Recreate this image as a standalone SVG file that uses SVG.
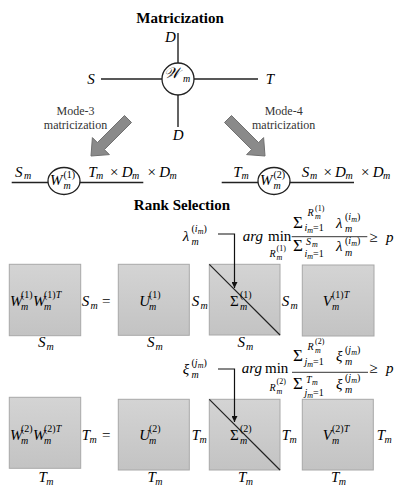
<svg xmlns="http://www.w3.org/2000/svg" width="412" height="495" viewBox="0 0 412 495">
<defs>
<style>
.t{font-family:"Liberation Serif","DejaVu Serif",serif;fill:#000}
.i{font-style:italic}
.b{font-weight:bold;font-size:15px}
.M{font-size:15px}
.s{font-size:10px}
.ss{font-size:8px}
.sg{font-size:17px}
.md{font-size:12px;fill:#333;text-anchor:middle}
.ln{stroke:#222;stroke-width:1.4;fill:none}
.bx{fill:url(#g);stroke:#a8a8a8;stroke-width:1}
.ar{fill:#8a8a8a;stroke:#707070;stroke-width:1}
.fr{stroke:#000;stroke-width:0.8}
.dg{stroke:#222;stroke-width:1.2}
.nd{fill:#fff;stroke:#222;stroke-width:1.3}
</style>
<linearGradient id="g" x1="0" y1="0" x2="0" y2="1">
<stop offset="0" stop-color="#d4d4d4"/><stop offset="1" stop-color="#c3c3c3"/>
</linearGradient>
<marker id="ah" viewBox="0 0 10 10" refX="10" refY="5" markerWidth="6" markerHeight="6" orient="auto" markerUnits="userSpaceOnUse">
<path d="M0,0 L10,5 L0,10 z" fill="#111"/>
</marker>
</defs>
<rect width="412" height="495" fill="#fff"/>

<g id="titles">
<text class="t b" x="180" y="22.5" text-anchor="middle">Matricization</text>
<text class="t b" x="182" y="210" text-anchor="middle">Rank Selection</text>
<text class="t md" x="75.5" y="114.5">Mode-3</text>
<text class="t md" x="75.5" y="128.5">matricization</text>
<text class="t md" x="283.7" y="114.5">Mode-4</text>
<text class="t md" x="283.7" y="128.5">matricization</text>
</g>

<g id="tensor">
<circle class="nd" cx="178" cy="79" r="16"/>
<text class="t i M" x="164" y="77.5">𝒲</text>
<text class="t i s" x="183" y="81.5">m</text>
<text class="t i M" x="165" y="41.7">D</text>
<text class="t i M" x="172.7" y="139.5">D</text>
<text class="t i M" x="87.3" y="84.3">S</text>
<text class="t i M" x="265.7" y="84.3">T</text>
</g>

<g id="mode3">
<ellipse class="nd" cx="64" cy="181" rx="16" ry="13.5"/>
<text class="t i M" x="50" y="184.5">W</text>
<text class="t s" x="63.5" y="177.5">(1)</text>
<text class="t i s" x="63.5" y="189">m</text>
<text class="t i M" x="15" y="176.5">S</text><text class="t i s" x="24" y="179">m</text>
<text class="t i M" x="88.3" y="176.5">T</text><text class="t i s" x="96" y="179">m</text>
<text class="t M" x="110" y="176.5">×</text>
<text class="t i M" x="121.7" y="176.5">D</text><text class="t i s" x="132" y="179">m</text>
<text class="t M" x="147.5" y="176.5">×</text>
<text class="t i M" x="159.3" y="176.5">D</text><text class="t i s" x="169.5" y="179">m</text>
</g>

<g id="mode4">
<ellipse class="nd" cx="274" cy="181" rx="16" ry="13.5"/>
<text class="t i M" x="260" y="184.5">W</text>
<text class="t s" x="273.5" y="177.5">(2)</text>
<text class="t i s" x="273.5" y="189">m</text>
<text class="t i M" x="233.3" y="176.5">T</text><text class="t i s" x="241.5" y="179">m</text>
<text class="t i M" x="301.7" y="176.5">S</text><text class="t i s" x="310" y="179">m</text>
<text class="t M" x="323.4" y="176.5">×</text>
<text class="t i M" x="335.1" y="176.5">D</text><text class="t i s" x="345.4" y="179">m</text>
<text class="t M" x="360.9" y="176.5">×</text>
<text class="t i M" x="372.7" y="176.5">D</text><text class="t i s" x="382.9" y="179">m</text>
</g>

<g id="rank1">
<rect class="bx" x="9.3" y="264.3" width="71.4" height="71.4"/>
<rect class="bx" x="118.3" y="264.3" width="71" height="71"/>
<rect class="bx" x="209.3" y="264.3" width="70.7" height="70.7"/>
<line class="dg" x1="209.3" y1="264.3" x2="280" y2="335"/>
<rect class="bx" x="302.3" y="265" width="71.7" height="71"/>
<text class="t i M" x="10" y="305.7">W</text><text class="t s" x="21" y="297.5">(1)</text><text class="t i s" x="21" y="310">m</text>
<text class="t i M" x="33" y="305.7">W</text><text class="t s" x="44" y="297.5">(1)<tspan class="i">T</tspan></text><text class="t i s" x="44" y="310">m</text>
<text class="t i M" x="81.7" y="305.7">S</text><text class="t i s" x="90.5" y="309">m</text><text class="t M" x="102" y="305.7">=</text>
<text class="t i M" x="139.3" y="305.7">U</text><text class="t s" x="149" y="297.5">(1)</text><text class="t i s" x="149" y="310">m</text>
<text class="t i M" x="191.7" y="305.7">S</text><text class="t i s" x="200.5" y="309">m</text>
<text class="t M" x="230" y="305.7">Σ</text><text class="t s" x="240" y="297.5">(1)</text><text class="t i s" x="240" y="310">m</text>
<text class="t i M" x="281.7" y="305.7">S</text><text class="t i s" x="290.5" y="309">m</text>
<text class="t i M" x="322.7" y="305.7">V</text><text class="t s" x="332" y="297.5">(1)<tspan class="i">T</tspan></text><text class="t i s" x="332" y="310">m</text>
<text class="t i M" x="38" y="347">S</text><text class="t i s" x="46.5" y="350">m</text>
<text class="t i M" x="147" y="347">S</text><text class="t i s" x="155.5" y="350">m</text>
<text class="t i M" x="237.5" y="347">S</text><text class="t i s" x="246" y="350">m</text>
</g>

<g id="formula1">
<text class="t i M" x="182.7" y="241">λ</text>
<text class="t s" x="191.5" y="232">(<tspan class="i">i</tspan><tspan class="ss i" dy="2">m</tspan><tspan dy="-2">)</tspan></text>
<text class="t i s" x="191.5" y="245">m</text>
<text class="t i M" x="242.7" y="241">arg</text><text class="t M" x="268" y="241">min</text>
<text class="t i s" x="269.5" y="257">R</text><text class="t ss" x="276.5" y="250.5">(1)</text><text class="t i ss" x="276.5" y="259.5">m</text>
<text class="t sg" x="293" y="228">Σ</text>
<text class="t i s" x="307.5" y="215.5">R</text><text class="t ss" x="315" y="210.5">(1)</text><text class="t i ss" x="315" y="219">m</text>
<text class="t s" x="304.5" y="231"><tspan class="i">i</tspan><tspan class="ss i" dy="2">m</tspan><tspan dy="-2">=1</tspan></text>
<text class="t i M" x="336" y="228">λ</text>
<text class="t s" x="345" y="220">(<tspan class="i">i</tspan><tspan class="ss i" dy="2">m</tspan><tspan dy="-2">)</tspan></text>
<text class="t i s" x="345" y="232">m</text>
<line class="fr" x1="291.7" y1="236.7" x2="367.3" y2="236.7"/>
<text class="t sg" x="293" y="251">Σ</text>
<text class="t i s" x="306" y="245">S</text><text class="t i ss" x="312" y="247">m</text>
<text class="t s" x="304.5" y="257"><tspan class="i">i</tspan><tspan class="ss i" dy="2">m</tspan><tspan dy="-2">=1</tspan></text>
<text class="t i M" x="336" y="251">λ</text>
<text class="t s" x="345" y="243.5">(<tspan class="i">i</tspan><tspan class="ss i" dy="2">m</tspan><tspan dy="-2">)</tspan></text>
<text class="t i s" x="345" y="256">m</text>
<text class="t M" x="369.3" y="241.5">≥</text><text class="t i M" x="386" y="241.5">p</text>
</g>

<g id="rank2">
<rect class="bx" x="9.3" y="397.3" width="71.4" height="71"/>
<rect class="bx" x="118.3" y="399.3" width="71" height="70.7"/>
<rect class="bx" x="209.3" y="399.3" width="70.7" height="70.7"/>
<line class="dg" x1="209.3" y1="399.3" x2="280" y2="470"/>
<rect class="bx" x="302.3" y="399.3" width="71" height="70.7"/>
<text class="t i M" x="10" y="440">W</text><text class="t s" x="21" y="431.8">(2)</text><text class="t i s" x="21" y="444.3">m</text>
<text class="t i M" x="33" y="440">W</text><text class="t s" x="44" y="431.8">(2)<tspan class="i">T</tspan></text><text class="t i s" x="44" y="444.3">m</text>
<text class="t i M" x="81.7" y="440">T</text><text class="t i s" x="89.5" y="443.3">m</text><text class="t M" x="102" y="440">=</text>
<text class="t i M" x="139.3" y="440">U</text><text class="t s" x="149" y="431.8">(2)</text><text class="t i s" x="149" y="444.3">m</text>
<text class="t i M" x="191.7" y="440">T</text><text class="t i s" x="199.5" y="443.3">m</text>
<text class="t M" x="230" y="440">Σ</text><text class="t s" x="240" y="431.8">(2)</text><text class="t i s" x="240" y="444.3">m</text>
<text class="t i M" x="281.7" y="440">T</text><text class="t i s" x="289.5" y="443.3">m</text>
<text class="t i M" x="322.7" y="440">V</text><text class="t s" x="332" y="431.8">(2)<tspan class="i">T</tspan></text><text class="t i s" x="332" y="444.3">m</text>
<text class="t i M" x="376.7" y="440">T</text><text class="t i s" x="384.5" y="443.3">m</text>
<text class="t i M" x="38.5" y="481.5">T</text><text class="t i s" x="46.3" y="484.5">m</text>
<text class="t i M" x="147.5" y="481.5">T</text><text class="t i s" x="155.3" y="484.5">m</text>
<text class="t i M" x="238" y="481.5">T</text><text class="t i s" x="245.8" y="484.5">m</text>
<text class="t i M" x="331" y="481.5">T</text><text class="t i s" x="338.8" y="484.5">m</text>
</g>

<g id="formula2">
<text class="t i M" x="182.7" y="374">ξ</text>
<text class="t s" x="191.5" y="366">(<tspan class="i">j</tspan><tspan class="ss i" dy="2">m</tspan><tspan dy="-2">)</tspan></text>
<text class="t i s" x="191.5" y="378">m</text>
<text class="t i M" x="241.7" y="373.3">arg</text><text class="t M" x="265" y="373.3">min</text>
<text class="t i s" x="269.5" y="391">R</text><text class="t ss" x="276.5" y="384">(2)</text><text class="t i ss" x="276.5" y="393.5">m</text>
<text class="t sg" x="293" y="361">Σ</text>
<text class="t i s" x="307.5" y="349.5">R</text><text class="t ss" x="315" y="344">(2)</text><text class="t i ss" x="315" y="353">m</text>
<text class="t s" x="304.5" y="364.5"><tspan class="i">j</tspan><tspan class="ss i" dy="2">m</tspan><tspan dy="-2">=1</tspan></text>
<text class="t i M" x="336" y="361">ξ</text>
<text class="t s" x="345" y="353">(<tspan class="i">j</tspan><tspan class="ss i" dy="2">m</tspan><tspan dy="-2">)</tspan></text>
<text class="t i s" x="345" y="365">m</text>
<line class="fr" x1="292" y1="372.3" x2="368" y2="372.3"/>
<text class="t sg" x="293" y="388.5">Σ</text>
<text class="t i s" x="306" y="382.5">T</text><text class="t i ss" x="312" y="384.5">m</text>
<text class="t s" x="304.5" y="396"><tspan class="i">j</tspan><tspan class="ss i" dy="2">m</tspan><tspan dy="-2">=1</tspan></text>
<text class="t i M" x="336" y="388.5">ξ</text>
<text class="t s" x="345" y="381">(<tspan class="i">j</tspan><tspan class="ss i" dy="2">m</tspan><tspan dy="-2">)</tspan></text>
<text class="t i s" x="345" y="392.5">m</text>
<text class="t M" x="369.3" y="373.3">≥</text><text class="t i M" x="386" y="373.3">p</text>
</g>

<g id="connectors">
<path class="ln" d="M178 33 V63 M178 95 V127 M101 79 H162 M194 79 H258"/>
<path class="ln" d="M11.7 182.5 H48 M80 182.5 H143.3 M221.7 182.5 H258 M290 182.5 H354"/>
<path d="M218 234 H234.5 V288" fill="none" stroke="#111" stroke-width="1.2" marker-end="url(#ah)"/>
<path d="M218 369 H234.5 V422" fill="none" stroke="#111" stroke-width="1.2" marker-end="url(#ah)"/>
<polygon class="ar" points="124.5,115.5 131.5,122.5 104.4,149.6 109.4,154.6 91,156 92.4,137.6 97.4,142.6"/>
<polygon class="ar" points="231.5,115.5 224.5,122.5 251.6,149.6 246.6,154.6 265,156 263.6,137.6 258.6,142.6"/>
</g>
</svg>
